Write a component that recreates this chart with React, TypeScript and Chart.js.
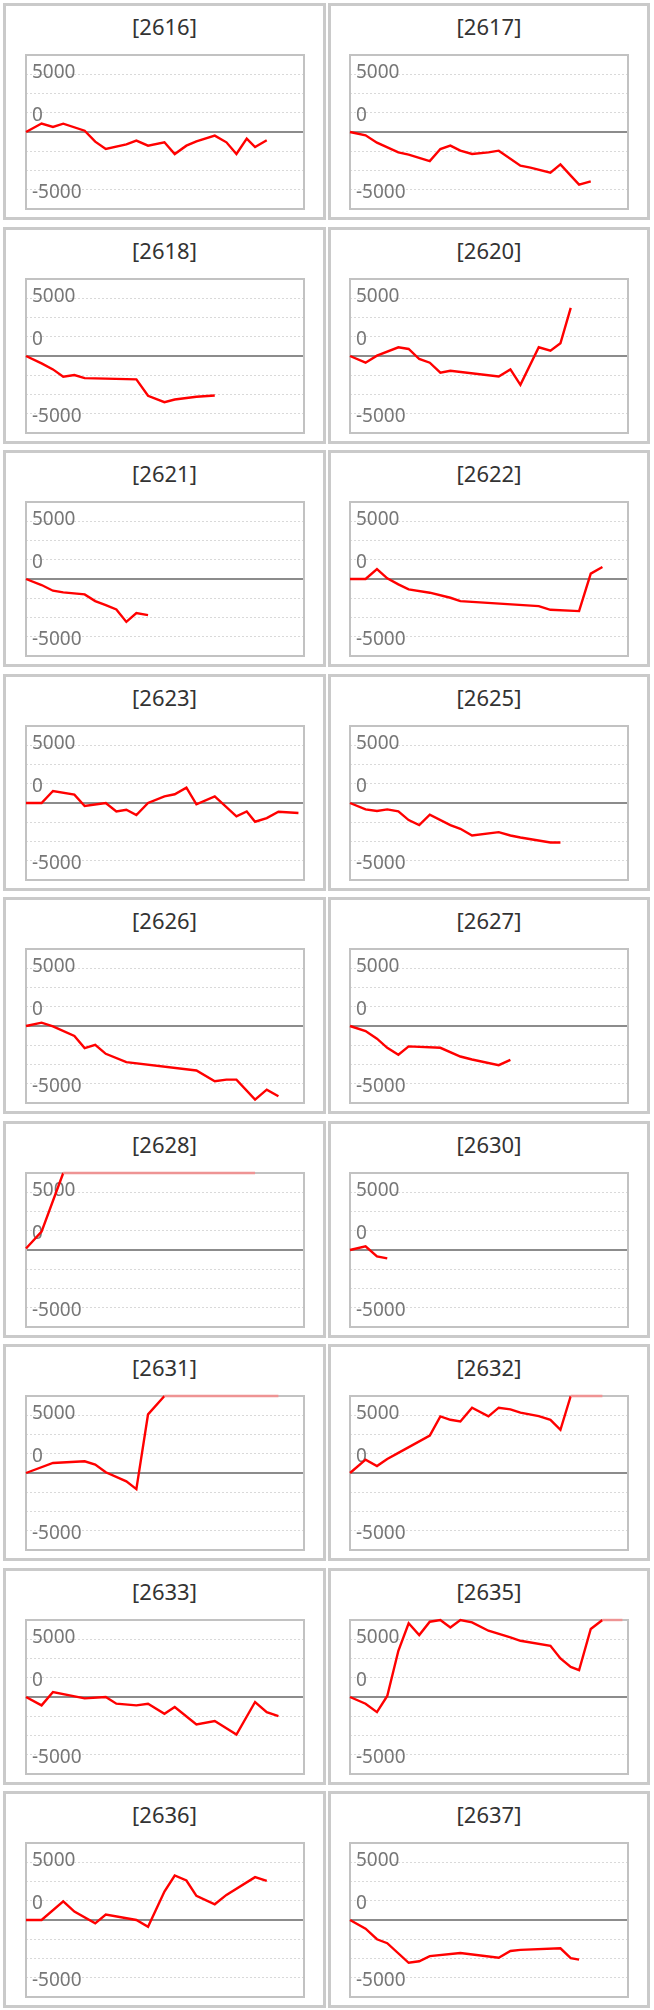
import React, { useEffect, useRef } from 'react';
import { Chart, registerables } from 'chart.js';

Chart.register(...registerables);

// x positions of the trading days (percent of the period shown)
const X_POS = [0, 5.6, 9.7, 13.4, 17.4, 21.1, 24.9, 28.7, 32.5, 36.1, 39.7, 43.9, 49.8, 53.5, 57.7, 61.3, 64.9, 67.9, 72.1, 75.7, 79.4, 82.4, 86.6, 90.8, 98.0];

const CODES = ['2616', '2617', '2618', '2620', '2621', '2622', '2623', '2625', '2626', '2627', '2628', '2630', '2631', '2632', '2633', '2635', '2636', '2637'];

const _ = null;
const S2616 = [0, 1100, 650, 1080, _, 170, -1255, -2210, _, -1600, -1125, -1775, -1340, -2860, -1775, -1210, _, -475, -1340, -2860, -865, -1950, -1080, _, _];
const S2617 = [0, -430, -1385, _, -2640, -2945, _, -3770, -2210, -1775, -2425, -2860, -2640, -2425, _, -4370, -4630, _, -5280, -4200, -5670, -6840, -6410, _, _];
const S2618 = [0, -960, -1740, -2700, -2480, -2870, _, _, _, _, -3040, -5170, -6000, -5650, _, -5300, _, -5130, _, _, _, _, _, _, _];
const S2620 = [0, -870, 40, _, 1130, 910, -390, -870, -2170, -1910, _, _, _, -2650, -1740, -3740, _, 1130, 700, 1650, 6260, _, _, _, _];
const S2621 = [0, -780, -1520, -1740, _, -2000, -2870, -3390, -3960, -5570, -4430, -4700, _, _, _, _, _, _, _, _, _, _, _, _, _];
const S2622 = [0, 0, 1300, 90, -700, -1350, _, -1780, _, -2435, -2870, _, _, _, _, _, _, -3520, -4000, _, _, -4170, 700, 1565, _];
const S2623 = [0, 0, 1565, _, 1090, -390, _, 0, -1090, -870, -1565, 0, 870, 1130, 2000, -175, _, 870, _, -1740, -1090, -2435, -1960, -1130, -1300];
const S2625 = [0, -830, -1040, -830, -1090, -2220, -2870, -1520, _, -2870, -3350, -4220, _, -3780, -4220, -4480, _, _, -5130, -5130, _, _, _, _, _];
const S2626 = [0, 435, -40, _, -1300, -2870, -2435, -3610, _, -4700, _, _, _, _, _, -5780, _, -7170, -6960, -6960, _, -9570, -8260, -9130, _];
const S2627 = [0, -650, -1650, -2830, -3740, -2650, _, _, -2830, _, -3960, -4350, _, -5090, -4390, _, _, _, _, _, _, _, _, _, _];
const S2628 = [200, 2380, _, 10000, _, _, _, _, _, _, _, _, _, _, _, _, _, _, _, _, _, 10000, _, _, _];
const S2630 = [0, 480, -830, -1090, _, _, _, _, _, _, _, _, _, _, _, _, _, _, _, _, _, _, _, _, _];
const S2631 = [0, _, 1300, _, _, 1520, 1090, 90, _, -1090, -2090, 7610, 10000, _, _, _, _, _, _, _, _, _, _, 10000, _];
const S2632 = [0, 1740, 910, 1830, 2610, _, _, 4870, 7350, 6910, 6700, 8480, 7350, 8480, 8260, 7830, _, 7390, 6910, 5610, 10000, _, _, 10000, _];
const S2633 = [0, -1090, 650, _, _, -175, _, 0, -870, _, -1090, -870, -2170, -1300, _, -3570, _, -3130, _, -4870, _, -650, -1960, -2480, _];
const S2635 = [0, -870, -1960, 130, 6000, 9570, 8040, 9780, 10000, 9040, 10000, 9700, 8610, _, 7740, 7300, _, _, 6650, 5000, 3910, 3480, 8830, 10000, 10000];
const S2636 = [0, 0, _, 2435, 1090, _, -435, 700, _, _, 0, -870, 3700, 5780, 5130, 3130, _, 2040, 3260, _, _, 5570, 5090, _, _];
const S2637 = [0, -1120, -2500, -3010, _, -5560, -5360, -4690, _, _, -4290, _, _, -4900, -4030, -3880, _, _, _, -3670, -4950, -5150, _, _, _];

const SERIES = [S2616, S2617, S2618, S2620, S2621, S2622, S2623, S2625, S2626, S2627, S2628, S2630, S2631, S2632, S2633, S2635, S2636, S2637];

const Y_MIN = -10000;
const Y_MAX = 10000;
const GRID_VALUES = [-10000, -7500, -5000, -2500, 0, 2500, 5000, 7500, 10000];
// where the axis labels sit on the value scale, and their text
const LABEL_VALUES = [7750, 2150, -7850];
const LABEL_TEXTS = ['5000', '0', '-5000'];

const FONT = "'Noto Sans', 'DejaVu Sans', sans-serif";
const ROW_PITCH = 223.5;
const PANEL_H = 217;
const BOX_TOP = 49;
const BOX_H = 154;
const BOX_W = 278;
const M = 6;

const boxPlugin = {
  id: 'plotBox',
  beforeDatasetsDraw(chart: any) {
    const { ctx, chartArea: a } = chart;
    ctx.save();
    ctx.strokeStyle = '#c2c2c2';
    ctx.lineWidth = 2;
    ctx.setLineDash([]);
    ctx.strokeRect(a.left, a.top, a.right - a.left, a.bottom - a.top);
    ctx.restore();
  },
};

function MiniChart({ values }: { values: (number | null)[] }) {
  const ref = useRef<HTMLCanvasElement | null>(null);
  useEffect(() => {
    if (!ref.current) return;
    const points = X_POS.map((x, i) => ({ x, y: values[i] })).filter((p) => p.y !== null) as { x: number; y: number }[];
    const chart = new Chart(ref.current, {
      type: 'line',
      data: {
        datasets: [
          {
            data: points,
            borderColor: '#ff0000',
            borderWidth: 2.4,
            pointRadius: 0,
            pointHoverRadius: 0,
            tension: 0,
            clip: 4,
            segment: {
              borderColor: (c: any) => (c.p0.parsed.y >= Y_MAX && c.p1.parsed.y >= Y_MAX ? '#ee9494' : '#ff0000'),
            },
          } as any,
        ],
      },
      options: {
        animation: false,
        responsive: true,
        maintainAspectRatio: false,
        events: [],
        layout: { padding: M },
        plugins: { legend: { display: false }, tooltip: { enabled: false } },
        scales: {
          x: {
            type: 'linear',
            min: 0,
            max: 100,
            position: { y: 0 } as any,
            ticks: { display: false },
            grid: { display: false, drawTicks: false },
            border: { display: true, color: '#8c8c8c', width: 2 },
            afterFit: (s: any) => {
              s.height = 0;
              s.paddingLeft = 0;
              s.paddingRight = 0;
              s.paddingTop = 0;
              s.paddingBottom = 0;
            },
          },
          y: {
            type: 'linear',
            min: Y_MIN,
            max: Y_MAX,
            position: 'left',
            afterBuildTicks: (s: any) => {
              const vals = [...GRID_VALUES, ...LABEL_VALUES].sort((a, b) => a - b);
              s.ticks = vals.map((v) => ({ value: v }));
            },
            ticks: {
              autoSkip: false,
              mirror: true,
              padding: 6,
              color: '#777777',
              font: { family: FONT, size: 19 },
              callback: (v: any) => {
                const k = LABEL_VALUES.indexOf(Number(v));
                return k >= 0 ? LABEL_TEXTS[k] : '';
              },
            },
            grid: {
              color: (c: any) => (c.tick && LABEL_VALUES.indexOf(c.tick.value) >= 0 ? 'rgba(0,0,0,0)' : '#d9d9d9'),
              lineWidth: 1,
              drawTicks: false,
              borderDash: [2, 2],
            } as any,
            border: { display: false, dash: [2, 2] },
            afterFit: (s: any) => {
              s.width = 0;
              s.paddingTop = 0;
              s.paddingBottom = 0;
              s.paddingLeft = 0;
              s.paddingRight = 0;
            },
          },
        },
      },
      plugins: [boxPlugin],
    });
    return () => chart.destroy();
  }, [values]);
  return <canvas ref={ref} />;
}

function Panel({ code, values, index }: { code: string; values: (number | null)[]; index: number }) {
  const col = index % 2;
  const row = Math.floor(index / 2);
  const left = col === 0 ? 3 : 328;
  const width = col === 0 ? 323 : 322;
  const boxLeft = col === 0 ? 20 : 19;
  return (
    <div
      style={{
        position: 'absolute',
        left,
        top: 3 + row * ROW_PITCH,
        width,
        height: PANEL_H,
        boxSizing: 'border-box',
        border: '3px solid #cacaca',
        background: '#ffffff',
      }}
    >
      <div
        style={{
          position: 'absolute',
          left: 0,
          right: 0,
          top: 6,
          textAlign: 'center',
          fontFamily: FONT,
          fontSize: 22,
          lineHeight: '28px',
          color: '#333333',
        }}
      >
        [{code}]
      </div>
      <div
        style={{
          position: 'absolute',
          left: boxLeft - M,
          top: BOX_TOP - M,
          width: BOX_W + 2 * M,
          height: BOX_H + 2 * M,
        }}
      >
        <MiniChart values={values} />
      </div>
    </div>
  );
}

export default function App() {
  return (
    <div style={{ position: 'absolute', left: 0, top: 0, width: 654, height: 2010, background: '#ffffff' }}>
      {CODES.map((code, i) => (
        <Panel key={code} code={code} values={SERIES[i]} index={i} />
      ))}
    </div>
  );
}
